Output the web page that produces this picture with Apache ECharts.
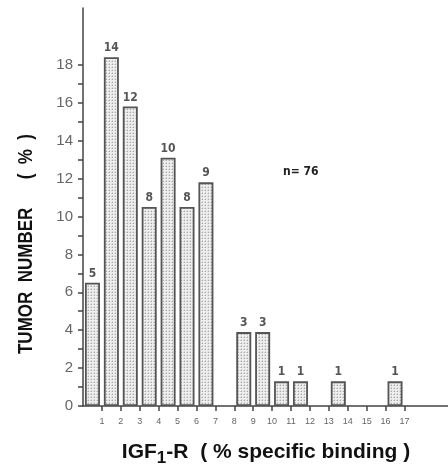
<!DOCTYPE html>
<html>
<head>
<meta charset="utf-8">
<script src="https://cdn.jsdelivr.net/npm/echarts@6/dist/echarts.min.js"></script>
<style>
html, body { margin: 0; padding: 0; background: #fff; }
#chart { width: 448px; height: 472px; }
</style>
</head>
<body>
<div id="chart"></div>
<script>
// bins of IGF1-R (% specific binding): [start, end]
var binStart = [0, 1, 2, 3, 4, 5, 6, 8, 9, 10, 11, 13, 16];
var binEnd   = [1, 2, 3, 4, 5, 6, 7, 9, 10, 11, 12, 14, 17];
// tumor number (%)
var percent  = [6.5, 18.4, 15.8, 10.5, 13.1, 10.5, 11.8, 3.9, 3.9, 1.3, 1.3, 1.3, 1.3];
// number of tumors written above each bar
var counts   = [5, 14, 12, 8, 10, 8, 9, 3, 3, 1, 1, 1, 1];
var xTicks   = [1, 2, 3, 4, 5, 6, 7, 8, 9, 10, 11, 12, 13, 14, 15, 16, 17];
var yLabels  = [0, 2, 4, 6, 8, 10, 12, 14, 16, 18];
var yTicks   = [0, 1, 2, 3, 4, 5, 6, 7, 8, 9, 10, 11, 12, 13, 14, 15, 16, 17, 18];

// dotted fill like the printed screen
var pat = document.createElement('canvas');
pat.width = 3; pat.height = 3;
var pc = pat.getContext('2d');
pc.fillStyle = '#eeeeee';
pc.fillRect(0, 0, 3, 3);
pc.fillStyle = '#aaaaaa';
pc.fillRect(1, 1, 1, 1);
pc.fillStyle = '#d2d2d2';
pc.fillRect(1, 0, 1, 1);
pc.fillRect(0, 1, 1, 1);

var seriesData = [];
for (var i = 0; i < percent.length; i++) {
    seriesData.push([(binStart[i] + binEnd[i]) / 2, percent[i], counts[i]]);
}

var ech = echarts.init(document.getElementById('chart'));
var option = {
    animation: false,
    grid: { left: 83, right: 0, top: 8, bottom: 66, outerBoundsMode: 'none' },
    xAxis: {
        type: 'value',
        min: 0,
        max: 19.3,
        splitLine: { show: false },
        axisLine: { lineStyle: { color: '#444', width: 1.5 } },
        axisTick: { customValues: xTicks, length: 5, lineStyle: { color: '#444', width: 1.5 } },
        axisLabel: { customValues: xTicks, color: '#666', fontSize: 9, margin: 11, fontFamily: 'Liberation Sans' }
    },
    yAxis: {
        type: 'value',
        min: 0,
        max: 21,
        splitLine: { show: false },
        axisLine: { show: true, lineStyle: { color: '#444', width: 1.5 } },
        axisTick: { customValues: yTicks, length: 5, lineStyle: { color: '#444', width: 1.5 } },
        axisLabel: { customValues: yLabels, color: '#666', fontSize: 15, margin: 10, fontFamily: 'Liberation Sans' }
    },
    series: [{
        type: 'bar',
        data: seriesData,
        barWidth: 15,
        itemStyle: {
            color: { image: pat, repeat: 'repeat' },
            borderColor: '#555',
            borderWidth: 1.8
        },
        label: {
            show: true,
            position: 'top',
            distance: 3,
            formatter: function (p) { return p.data[2]; },
            color: '#555',
            fontSize: 12,
            fontWeight: 'bold',
            fontFamily: 'DejaVu Sans Condensed'
        }
    }],
    graphic: [{
        type: 'text',
        x: 26,
        y: 244,
        rotation: Math.PI / 2,
        scaleX: 0.85,
        style: {
            text: 'TUMOR  NUMBER      (  %  )',
            font: 'bold 20px "Liberation Sans"',
            fill: '#111',
            align: 'center',
            verticalAlign: 'middle'
        }
    }, {
        type: 'text',
        x: 266,
        y: 453,
        style: {
            text: '{a|IGF}{s|1}{a|-R  ( % specific binding )}',
            align: 'center',
            verticalAlign: 'middle',
            rich: {
                a: { font: 'bold 21px "Liberation Sans"', fill: '#111', lineHeight: 22, verticalAlign: 'top' },
                s: { font: 'bold 17px "Liberation Sans"', fill: '#111', lineHeight: 18, verticalAlign: 'top', padding: [8, 0, 0, 0] }
            }
        }
    }, {
        type: 'text',
        left: 283,
        top: 166,
        style: { text: 'n= 76', fontSize: 12, fontWeight: 'bold', fill: '#222', fontFamily: 'DejaVu Sans Condensed' }
    }]
};
ech.setOption(option);
</script>
</body>
</html>
